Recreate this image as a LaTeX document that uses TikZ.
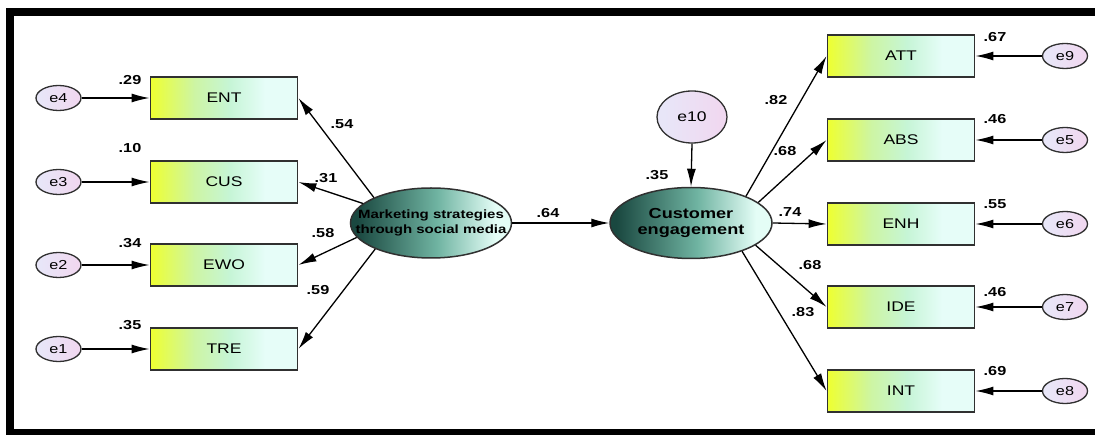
\documentclass[tikz,border=0pt]{standalone}
\usepackage{fontspec}
\newfontfamily\amosfont[FakeStretch=1.25]{Liberation Sans}
\usetikzlibrary{arrows.meta}
\usetikzlibrary{shapes.geometric}

\definecolor{boxyellow}{HTML}{EEFF30}
\definecolor{boxlime}{HTML}{CDF5A4}
\definecolor{boxmint}{HTML}{C6F5D6}
\definecolor{boxpale}{HTML}{E6FDF8}
\definecolor{latdark}{HTML}{1A4840}
\definecolor{latmid}{HTML}{70B4A2}
\definecolor{latlight}{HTML}{E4FDF6}
\definecolor{errleft}{HTML}{E8E6F8}
\definecolor{errright}{HTML}{F0D8F0}
\definecolor{edgegray}{HTML}{303030}

\pgfdeclarehorizontalshading{indshade}{100bp}{color(0bp)=(boxyellow); color(25bp)=(boxyellow); color(40bp)=(boxlime); color(52bp)=(boxmint); color(64bp)=(boxpale); color(100bp)=(boxpale)}
\pgfdeclarehorizontalshading{latshade}{100bp}{color(0bp)=(latdark); color(27bp)=(latdark); color(52bp)=(latmid); color(70bp)=(latlight); color(100bp)=(latlight)}
\pgfdeclarehorizontalshading{errshade}{100bp}{color(0bp)=(errleft); color(30bp)=(errleft); color(70bp)=(errright); color(100bp)=(errright)}

\begin{document}
\begin{tikzpicture}[x=1pt,y=-1pt,
  indicator/.style={draw=edgegray, line width=1.3pt, shade, shading=indshade,
    minimum width=147.5pt, minimum height=42pt, inner sep=0pt,
    font=\amosfont\fontsize{14}{16}\selectfont},
  latent/.style={ellipse, draw=edgegray, line width=1.5pt, shade, shading=latshade,
    minimum width=161pt, minimum height=70pt, inner sep=0pt},
  latenttext/.style={align=center, inner sep=0pt},
  error/.style={ellipse, draw=edgegray, line width=1.3pt, shade, shading=errshade,
    minimum width=45pt, minimum height=25pt, inner sep=1pt,
    font=\amosfont\fontsize{13}{15}\selectfont},
  coef/.style={font=\amosfont\bfseries\fontsize{13}{15}\selectfont, inner sep=0pt},
  regpath/.style={-{Latex[length=18pt,width=9pt]}, line width=1.3pt}
]
\useasboundingbox (0,0) rectangle (1095,435);
% frame
\fill[black] (6,8) rectangle (1095,16);
\fill[black] (6,8) rectangle (14,435);
\fill[black] (6,429) rectangle (1095,435);

% latent variables
\node[latent] (ms) at (431,223) {};
\node[latenttext, font=\amosfont\bfseries\fontsize{12}{14.5}\selectfont] (mstext) at (ms) {Marketing strategies\\through social media};
\node[latent, minimum width=162pt, minimum height=71pt] (ce) at (691,223) {};
\node[latenttext, font=\amosfont\bfseries\fontsize{14.5}{15.5}\selectfont] (cetext) at (ce) {Customer\\engagement};
\node[error, minimum width=70pt, minimum height=52pt, font=\amosfont\fontsize{14}{16}\selectfont] (e10) at (692,117) {e10};

% left indicators
\node[indicator] (ent) at (224,98) {ENT};
\node[indicator] (cus) at (224,182) {CUS};
\node[indicator] (ewo) at (224,265) {EWO};
\node[indicator] (tre) at (224,349) {TRE};
\node[error] (e4) at (58.5,98) {e4};
\node[error] (e3) at (58.5,182) {e3};
\node[error] (e2) at (58.5,265) {e2};
\node[error] (e1) at (58.5,349) {e1};

% right indicators
\node[indicator] (att) at (901,56) {ATT};
\node[indicator] (abs) at (901,140) {ABS};
\node[indicator] (enh) at (901,224) {ENH};
\node[indicator] (ide) at (901,307) {IDE};
\node[indicator] (int) at (901,391) {INT};
\node[error] (e9) at (1065,56) {e9};
\node[error] (e5) at (1065,140) {e5};
\node[error] (e6) at (1065,224) {e6};
\node[error] (e7) at (1065,307) {e7};
\node[error] (e8) at (1065,391) {e8};

% paths
\draw[regpath] (ms.156) -- (ent.east);
\draw[regpath] (ms.164) -- (cus.east);
\draw[regpath] (ms.191) -- (ewo.east);
\draw[regpath] (ms.205) -- (tre.east);
\draw[regpath] (ms.east) -- (ce.west);
\draw[regpath] (e10.south) -- (ce.north);
\draw[regpath] (ce.26) -- (att.west);
\draw[regpath] (ce.17) -- (abs.west);
\draw[regpath] (ce.east) -- (enh.west);
\draw[regpath] (ce.-19) -- (ide.west);
\draw[regpath] (ce.-29) -- (int.west);
\draw[regpath] (e4) -- (ent);
\draw[regpath] (e3) -- (cus);
\draw[regpath] (e2) -- (ewo);
\draw[regpath] (e1) -- (tre);
\draw[regpath] (e9) -- (att);
\draw[regpath] (e5) -- (abs);
\draw[regpath] (e6) -- (enh);
\draw[regpath] (e7) -- (ide);
\draw[regpath] (e8) -- (int);

% estimates
\node[coef] (r2ent) at (130,80) {.29};
\node[coef] (r2cus) at (130,148) {.10};
\node[coef] (r2ewo) at (130,243) {.34};
\node[coef] (r2tre) at (130,325) {.35};
\node[coef] (lent) at (342,124) {.54};
\node[coef] (lcus) at (326,178) {.31};
\node[coef] (lewo) at (323,233) {.58};
\node[coef] (ltre) at (318,290) {.59};
\node[coef] (bms) at (548,213) {.64};
\node[coef] (r2ce) at (657,175) {.35};
\node[coef] (latt) at (776,100) {.82};
\node[coef] (labs) at (785,151) {.68};
\node[coef] (lenh) at (790,212) {.74};
\node[coef] (lide) at (810,265) {.68};
\node[coef] (lint) at (803,312) {.83};
\node[coef] (r2att) at (995,37) {.67};
\node[coef] (r2abs) at (995,119) {.46};
\node[coef] (r2enh) at (995,204) {.55};
\node[coef] (r2ide) at (995,292) {.46};
\node[coef] (r2int) at (995,371) {.69};
\end{tikzpicture}
\end{document}
